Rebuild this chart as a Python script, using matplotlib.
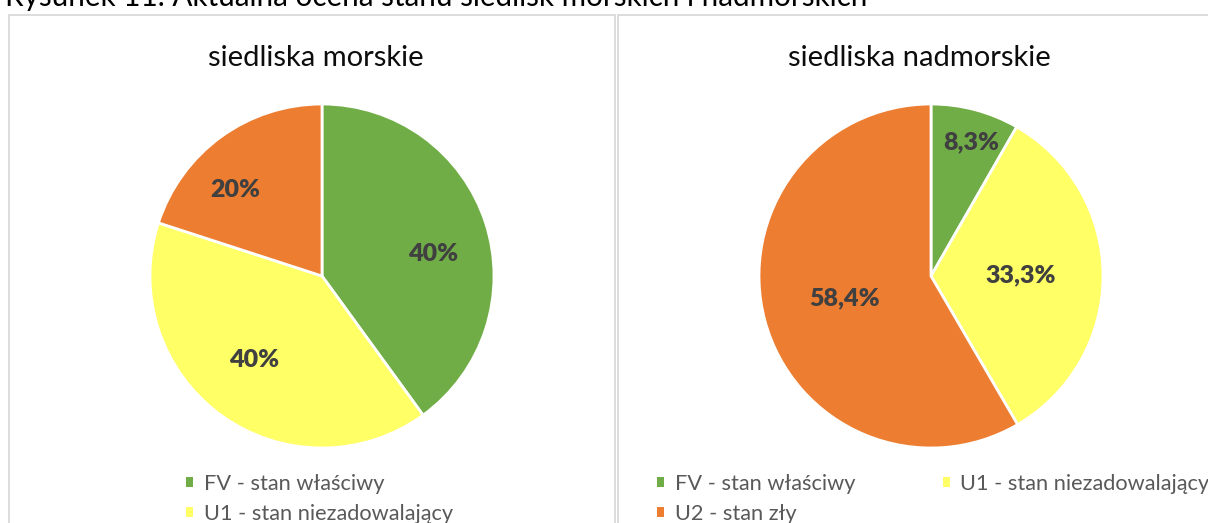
import matplotlib.pyplot as plt
from matplotlib.patches import Rectangle, Patch
import numpy as np

plt.rcParams['font.family'] = ['Lato', 'DejaVu Sans']

# data
categories = ['FV - stan właściwy', 'U1 - stan niezadowalający', 'U2 - stan zły']
colors = ['#70AD47', '#FFFF66', '#ED7D31']
morskie = [40, 40, 20]
morskie_labels = ['40%', '40%', '20%']
nadmorskie = [8.3, 33.3, 58.4]
nadmorskie_labels = ['8,3%', '33,3%', '58,4%']
caption = 'Rysunek 11. Aktualna ocena stanu siedlisk morskich i nadmorskich'

W, H = 1208, 523
fig = plt.figure(figsize=(W / 100, H / 100), dpi=100)

def fx(px):
    return px / W

def fy(py):
    return 1 - py / H

# caption, cut at the top of the image like in the source
fig.text(fx(5), fy(6), caption, fontsize=21.3, color='#000000', va='baseline', ha='left')

# chart frames
for x0, x1 in [(9, 615), (618, 1215)]:
    fig.patches.append(Rectangle((fx(x0), fy(540)), fx(x1 - x0), (540 - 15) / H,
                                 transform=fig.transFigure, fill=False,
                                 edgecolor='#D9D9D9', linewidth=1.3, clip_on=False))

def draw_pie(cx, cy, r, values, labels, title, title_x, dists, shifts):
    ax = fig.add_axes([fx(cx - r), fy(cy + r), fx(2 * r), 2 * r / H])
    wedges, _ = ax.pie(values, colors=colors, startangle=90, counterclock=False,
                       wedgeprops=dict(edgecolor='white', linewidth=2))
    # label placement: mid angle of wedge, with small tweaks
    for w, lab, d, s in zip(wedges, labels, dists, shifts):
        ang = np.deg2rad((w.theta1 + w.theta2) / 2 + s)
        ax.text(d * np.cos(ang), d * np.sin(ang), lab, ha='center', va='center',
                fontsize=18, fontweight='heavy', color='#404040')
    ax.set_xlim(-1, 1)
    ax.set_ylim(-1, 1)
    ax.axis('off')
    fig.text(fx(title_x), fy(58), title, ha='center', va='center', fontsize=21, color='#0D0D0D')

draw_pie(322, 276, 172, morskie, morskie_labels, 'siedliska morskie', 316,
         [0.66, 0.63, 0.71], [-7, -3, 9])
draw_pie(931, 276, 172, nadmorskie, nadmorskie_labels, 'siedliska nadmorskie', 919,
         [0.81, 0.52, 0.52], [-2, 0, -1])

handles = [Patch(facecolor=c, edgecolor='none') for c in colors]
leg_kw = dict(frameon=False, fontsize=15.7, labelcolor='#595959', handlelength=0.32,
              handleheight=0.32, handletextpad=0.5, borderpad=0, borderaxespad=0,
              labelspacing=0.44, loc='upper left')
fig.legend(handles, categories, ncol=1, bbox_to_anchor=(fx(186), fy(474)), **leg_kw)
# row-wise order: FV, U1 on the first row, U2 below
order = [0, 2, 1]
fig.legend([handles[i] for i in order], [categories[i] for i in order], ncol=2,
           columnspacing=4.0, bbox_to_anchor=(fx(657), fy(474)), **leg_kw)

fig.savefig('out.png', dpi=100)
